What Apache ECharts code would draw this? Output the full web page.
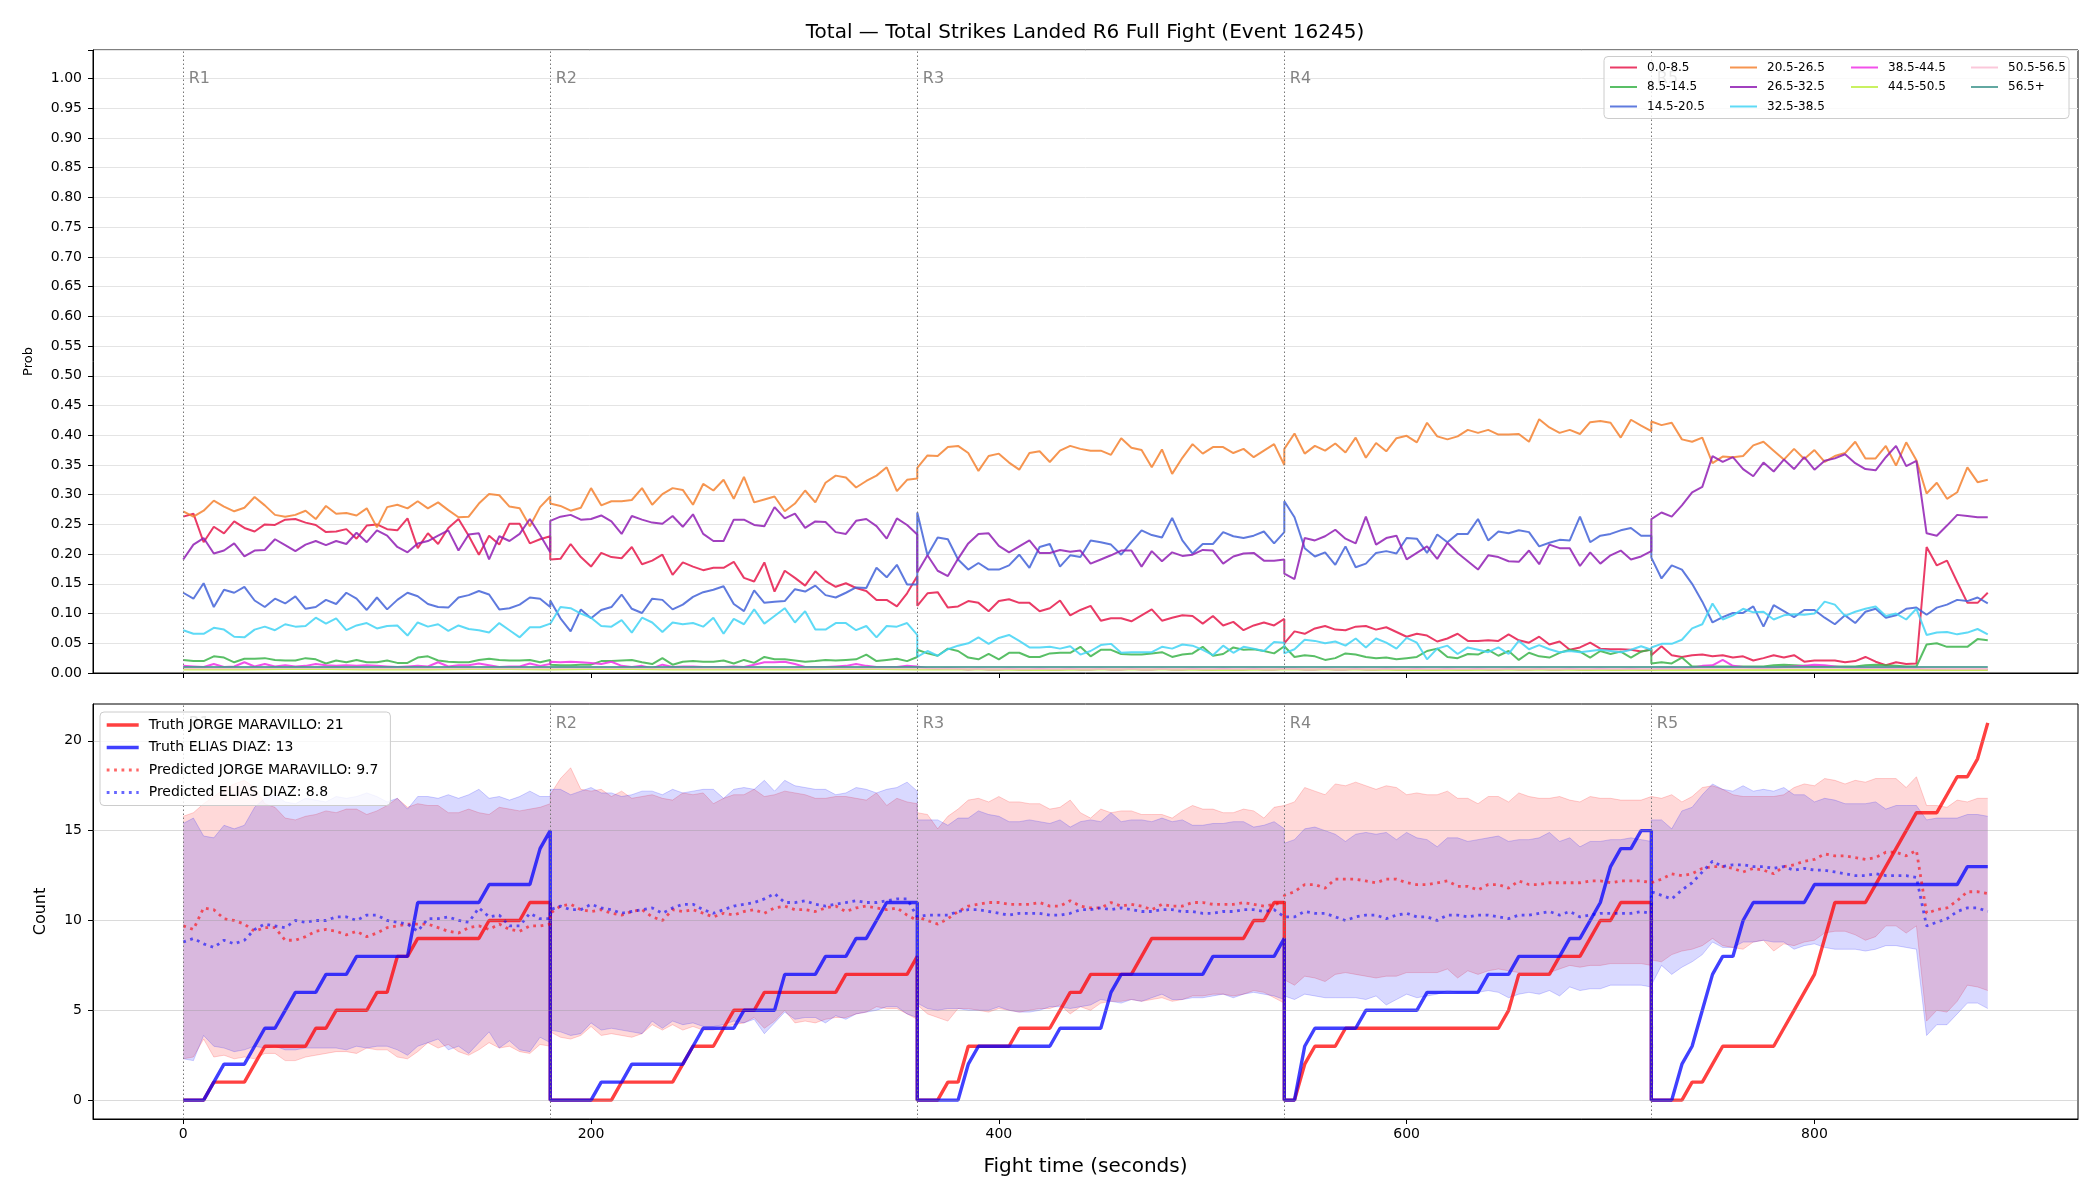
<!DOCTYPE html>
<html>
<head>
<meta charset="utf-8">
<script src="https://cdn.jsdelivr.net/npm/echarts@6/dist/echarts.min.js"></script>
<style>
  html, body { margin: 0; padding: 0; background: #fff; }
  #chart { width: 2100px; height: 1200px; }
</style>
</head>
<body>
<div id="chart"></div>
<script>
// round layout (seconds)
const roundStarts = [0, 180, 360, 540, 720];
const roundEnds = [180, 360, 540, 720, 885];
const roundLabels = ['R1', 'R2', 'R3', 'R4', 'R5'];
const xTicks = [0, 200, 400, 600, 800];
const countTicks = [0, 5, 10, 15, 20];

// top panel: probability per bucket, sampled every 5 s per round
const bucketNames = ['0.0-8.5', '8.5-14.5', '14.5-20.5', '20.5-26.5', '26.5-32.5',
  '32.5-38.5', '38.5-44.5', '44.5-50.5', '50.5-56.5', '56.5+'];
const bucketColors = ['#e6194b', '#3cb44b', '#4363d8', '#f58231', '#911eb4',
  '#42d4f4', '#f032e6', '#bfef45', '#fabed4', '#469990'];

const p00 = [
  .263,.268,.220,.246,.235,.255,.244,.238,.250,.249,.258,.259,.253,.249,.237,.238,.242,.226,.248,.250,.242,.240,.260,.210,.235,.217,.244,.259,.231,.199,.231,.216,.251,.251,.218,.225,.230,
  .191,.192,.217,.195,.179,.202,.195,.193,.212,.183,.189,.199,.165,.186,.179,.173,.177,.177,.187,.160,.154,.186,.137,.172,.160,.147,.171,.155,.145,.151,.143,.138,.123,.123,.112,.134,.163,
  .113,.134,.136,.110,.112,.121,.118,.104,.121,.124,.118,.118,.104,.109,.122,.097,.106,.113,.088,.092,.092,.087,.097,.107,.088,.093,.097,.096,.083,.096,.080,.086,.072,.080,.085,.080,.091,
  .050,.070,.066,.075,.079,.073,.072,.078,.079,.073,.077,.069,.061,.066,.063,.053,.058,.066,.054,.054,.055,.054,.065,.055,.051,.061,.048,.053,.039,.043,.051,.041,.040,.040,.039,.036,.040,
  .030,.045,.030,.027,.030,.031,.028,.030,.026,.028,.021,.025,.030,.026,.030,.019,.021,.021,.021,.018,.020,.027,.019,.013,.018,.015,.016,.212,.181,.189,.153,.118,.118,.135
];
const p08 = [
  .022,.020,.020,.028,.026,.018,.024,.024,.025,.022,.021,.021,.025,.023,.016,.021,.018,.022,.018,.018,.021,.017,.017,.026,.028,.021,.019,.018,.018,.022,.024,.022,.021,.021,.022,.018,.022,
  .014,.013,.013,.014,.014,.020,.020,.021,.022,.018,.015,.025,.014,.019,.020,.019,.019,.021,.016,.022,.017,.027,.023,.023,.021,.019,.020,.022,.021,.022,.023,.031,.020,.022,.024,.020,.027,
  .039,.033,.029,.041,.037,.026,.023,.032,.023,.034,.034,.027,.027,.033,.034,.034,.044,.028,.039,.039,.032,.031,.031,.033,.035,.027,.031,.033,.044,.029,.032,.043,.039,.040,.037,.033,.045,
  .045,.027,.030,.028,.022,.025,.033,.031,.027,.025,.026,.023,.025,.027,.037,.041,.027,.025,.032,.031,.039,.029,.037,.022,.034,.028,.026,.034,.039,.036,.026,.037,.032,.036,.026,.036,.039,
  .016,.018,.016,.026,.011,.011,.011,.011,.011,.011,.011,.011,.013,.014,.013,.012,.011,.011,.011,.011,.011,.013,.014,.013,.012,.011,.011,.048,.050,.044,.044,.044,.057,.055
];
const p14 = [
  .135,.125,.151,.111,.140,.135,.145,.122,.111,.125,.117,.129,.108,.111,.123,.116,.135,.125,.106,.127,.107,.123,.135,.129,.116,.111,.110,.127,.131,.138,.132,.107,.109,.115,.127,.125,.111,
  .122,.092,.070,.107,.092,.106,.111,.132,.108,.101,.125,.123,.107,.115,.128,.136,.140,.146,.116,.104,.139,.118,.120,.121,.141,.137,.147,.131,.127,.135,.144,.143,.177,.161,.182,.149,.149,
  .270,.198,.228,.225,.191,.174,.185,.174,.174,.181,.199,.177,.212,.217,.179,.198,.195,.223,.220,.216,.199,.220,.240,.232,.228,.261,.223,.201,.217,.217,.237,.230,.227,.231,.238,.218,.237,
  .289,.262,.210,.196,.203,.182,.213,.178,.184,.202,.205,.201,.227,.226,.202,.233,.220,.234,.234,.259,.223,.238,.235,.240,.237,.213,.219,.224,.223,.263,.220,.231,.234,.240,.244,.231,.231,
  .194,.159,.181,.174,.150,.120,.085,.094,.101,.101,.112,.078,.114,.104,.094,.106,.106,.093,.082,.097,.084,.103,.108,.093,.097,.108,.110,.098,.110,.115,.123,.121,.127,.117
];
const p20 = [
  .272,.263,.273,.290,.280,.272,.278,.296,.282,.266,.263,.266,.273,.259,.281,.268,.269,.265,.277,.245,.279,.283,.277,.289,.277,.287,.274,.262,.263,.285,.301,.299,.280,.277,.247,.279,.297,
  .285,.281,.273,.278,.311,.282,.289,.289,.291,.311,.283,.301,.311,.308,.283,.318,.307,.325,.293,.330,.287,.292,.297,.272,.285,.307,.287,.320,.332,.329,.312,.323,.332,.346,.306,.325,.327,
  .345,.366,.365,.380,.382,.370,.340,.365,.369,.354,.342,.370,.373,.355,.374,.382,.377,.374,.374,.367,.395,.379,.375,.346,.376,.335,.362,.385,.369,.380,.380,.370,.377,.363,.374,.385,.350,
  .377,.403,.369,.382,.374,.386,.371,.396,.362,.387,.373,.395,.399,.388,.421,.398,.393,.398,.409,.404,.409,.401,.401,.402,.389,.427,.413,.404,.409,.402,.422,.424,.421,.396,.426,.416,.407,
  .423,.417,.421,.393,.389,.396,.353,.364,.363,.365,.383,.389,.374,.359,.377,.360,.375,.355,.365,.370,.389,.361,.361,.382,.349,.388,.358,.302,.320,.293,.304,.346,.321,.325
];
const p26 = [
  .191,.216,.227,.201,.206,.218,.196,.206,.207,.225,.215,.205,.216,.222,.215,.222,.217,.236,.220,.240,.231,.212,.203,.218,.222,.231,.240,.206,.233,.235,.191,.230,.222,.234,.259,.232,.203,
  .256,.263,.266,.258,.259,.265,.255,.234,.264,.258,.253,.251,.264,.246,.267,.234,.222,.222,.258,.258,.249,.247,.279,.260,.268,.244,.255,.254,.237,.234,.256,.259,.247,.226,.260,.249,.233,
  .169,.198,.172,.163,.192,.218,.234,.235,.214,.203,.213,.223,.202,.202,.207,.204,.206,.184,.191,.198,.206,.206,.179,.205,.188,.203,.197,.199,.207,.206,.184,.196,.201,.202,.189,.189,.191,
  .167,.158,.227,.223,.230,.241,.226,.218,.263,.216,.227,.231,.191,.202,.213,.192,.219,.202,.188,.174,.198,.195,.188,.187,.206,.183,.216,.210,.210,.180,.203,.184,.198,.206,.191,.196,.205,
  .259,.270,.263,.282,.304,.313,.365,.355,.363,.343,.331,.354,.339,.359,.343,.363,.342,.357,.361,.368,.353,.343,.341,.363,.382,.348,.357,.235,.231,.248,.266,.264,.262,.262
];
const p32 = [
  .072,.066,.066,.076,.073,.061,.060,.073,.078,.072,.082,.078,.079,.093,.083,.092,.072,.080,.084,.075,.079,.080,.063,.085,.078,.082,.071,.080,.074,.072,.068,.084,.072,.060,.077,.077,.083,
  .083,.111,.109,.100,.093,.079,.078,.089,.068,.093,.085,.069,.085,.082,.084,.078,.093,.066,.091,.082,.107,.083,.096,.109,.085,.104,.073,.073,.084,.084,.072,.079,.060,.079,.078,.084,.064,
  .027,.037,.029,.040,.046,.050,.060,.049,.059,.064,.054,.043,.043,.044,.041,.045,.031,.037,.047,.049,.034,.035,.035,.035,.044,.041,.048,.046,.039,.030,.046,.034,.044,.041,.037,.052,.051,
  .033,.040,.056,.054,.050,.053,.046,.058,.043,.058,.051,.041,.059,.051,.023,.041,.046,.032,.043,.039,.035,.043,.032,.054,.040,.047,.040,.035,.037,.035,.037,.039,.037,.035,.039,.045,.039,
  .043,.049,.049,.056,.075,.082,.117,.090,.097,.108,.102,.103,.090,.097,.099,.098,.100,.120,.115,.096,.103,.108,.112,.096,.100,.090,.108,.064,.068,.069,.065,.068,.074,.065
];
const p38 = [
  .012,.011,.010,.015,.010,.011,.018,.011,.015,.011,.013,.011,.012,.015,.013,.012,.013,.012,.013,.012,.011,.010,.011,.012,.011,.018,.011,.013,.013,.016,.013,.010,.011,.011,.016,.012,.015,
  .019,.018,.019,.018,.017,.015,.019,.012,.010,.012,.008,.014,.010,.011,.011,.010,.010,.010,.011,.010,.014,.018,.018,.019,.015,.010,.010,.010,.011,.012,.015,.012,.010,.010,.010,.012,.011,
  .009,.008,.007,.008,.007,.006,.007,.006,.006,.007,.006,.006,.007,.006,.006,.007,.006,.006,.007,.006,.006,.007,.006,.006,.007,.006,.006,.007,.006,.006,.007,.006,.006,.007,.006,.006,.007,
  .006,.007,.006,.006,.007,.006,.006,.007,.006,.006,.007,.006,.006,.007,.006,.006,.007,.006,.006,.007,.006,.006,.007,.006,.006,.007,.006,.006,.007,.006,.006,.007,.006,.006,.007,.006,.006,
  .008,.007,.008,.007,.009,.012,.013,.022,.012,.010,.009,.008,.009,.010,.011,.012,.014,.013,.011,.009,.008,.008,.009,.008,.007,.008,.007,.006,.006,.006,.006,.006,.006,.006
];
// the three highest buckets sit flat near zero: read every 30 s
const p44 = [
  .006,.006,.007,.006,.006,.007,.006,  .006,.007,.006,.006,.006,.007,.006,  .006,.006,.005,.006,.006,.005,.006,
  .005,.006,.005,.005,.006,.005,.005,  .005,.005,.005,.005,.005,.005,.005
];
const p50 = [
  .008,.008,.009,.008,.008,.008,.008,  .008,.009,.008,.008,.008,.008,.008,  .007,.007,.007,.007,.007,.007,.007,
  .007,.007,.007,.007,.007,.007,.007,  .007,.008,.008,.009,.008,.007,.007
];
const p56 = [
  .010,.010,.010,.010,.010,.010,.010,  .010,.010,.010,.010,.010,.010,.010,  .010,.010,.010,.010,.010,.010,.010,
  .010,.010,.010,.010,.010,.010,.010,  .010,.010,.010,.010,.010,.010,.010
];
const bucketProbs = [p00, p08, p14, p20, p26, p32, p38, p44, p50, p56];

// bottom panel: cumulative counts, 5 s samples
const truthJorge = [
  0,0,0,1,1,1,1,2,3,3,3,3,3,4,4,5,5,5,5,6,6,8,8,9,9,9,9,9,9,9,10,10,10,10,11,11,11,
  0,0,0,0,0,0,0,1,1,1,1,1,1,2,3,3,3,4,5,5,5,6,6,6,6,6,6,6,6,7,7,7,7,7,7,7,8,
  0,0,0,1,1,3,3,3,3,3,4,4,4,4,5,6,6,7,7,7,7,7,8,9,9,9,9,9,9,9,9,9,9,10,10,11,11,
  0,0,2,3,3,3,4,4,4,4,4,4,4,4,4,4,4,4,4,4,4,4,5,7,7,7,7,8,8,8,9,10,10,11,11,11,11,
  0,0,0,0,1,1,2,3,3,3,3,3,3,4,5,6,7,9,11,11,11,11,12,13,14,15,16,16,16,17,18,18,19,21
];
const truthElias = [
  0,0,0,1,2,2,2,3,4,4,5,6,6,6,7,7,7,8,8,8,8,8,8,11,11,11,11,11,11,11,12,12,12,12,12,14,15,
  0,0,0,0,0,1,1,1,2,2,2,2,2,2,3,4,4,4,4,5,5,5,5,7,7,7,7,8,8,8,9,9,10,11,11,11,11,
  0,0,0,0,0,2,3,3,3,3,3,3,3,3,4,4,4,4,4,6,7,7,7,7,7,7,7,7,7,8,8,8,8,8,8,8,9,
  0,0,3,4,4,4,4,4,5,5,5,5,5,5,6,6,6,6,6,6,7,7,7,8,8,8,8,8,9,9,10,11,13,14,14,15,15,
  0,0,0,2,3,5,7,8,8,10,11,11,11,11,11,11,12,12,12,12,12,12,12,12,12,12,12,12,12,12,12,13,13,13
];
const predJorge = [
  9.7,9.5,10.7,10.6,10.1,10.0,9.8,9.4,9.6,9.6,8.9,8.9,9.1,9.4,9.5,9.4,9.2,9.4,9.1,9.3,9.6,9.7,9.8,9.8,9.8,9.6,9.4,9.3,9.6,9.7,9.5,9.8,9.5,9.4,9.7,9.7,9.8,
  10.4,10.8,10.9,10.6,10.5,10.6,10.4,10.3,10.5,10.6,10.2,10.0,10.6,10.5,10.6,10.4,10.2,10.4,10.3,10.5,10.6,10.4,10.7,10.8,10.6,10.6,10.5,10.7,10.8,10.5,10.7,10.8,10.7,10.6,10.7,10.3,10.0,
  10.2,10.0,9.8,10.1,10.5,10.8,10.9,11.0,11.0,10.9,10.9,10.9,11.0,10.8,10.8,11.1,10.8,10.7,10.7,11.0,10.8,10.9,10.8,10.6,10.9,10.8,10.8,11.0,11.0,10.9,10.9,10.9,11.0,10.9,10.8,10.9,11.0,
  11.4,11.6,12.0,12.0,11.8,12.3,12.3,12.3,12.2,12.1,12.3,12.3,12.1,12.0,12.0,12.1,12.2,11.9,11.9,11.7,12.0,12.0,11.8,12.2,12.0,12.0,12.1,12.1,12.1,12.1,12.2,12.2,12.1,12.2,12.2,12.2,12.1,
  12.1,12.3,12.6,12.5,12.6,12.9,13.0,13.0,12.9,12.7,12.9,12.8,12.6,13.0,13.1,13.3,13.4,13.7,13.6,13.6,13.5,13.4,13.5,13.8,13.8,13.6,13.9,10.4,10.6,10.7,11.1,11.6,11.6,11.5
];
const predElias = [
  8.8,9.0,8.7,8.5,8.9,8.7,8.9,9.5,9.8,9.7,9.6,10.0,9.9,10.0,10.0,10.2,10.2,10.0,10.3,10.3,10.0,9.9,9.8,9.4,10.1,10.1,10.2,10.0,9.9,10.7,10.2,10.3,9.7,9.7,10.4,10.1,10.1,
  10.6,10.8,10.6,10.6,10.9,10.7,10.6,10.4,10.5,10.6,10.7,10.4,10.7,10.9,10.9,10.6,10.4,10.6,10.8,10.9,11.0,11.2,11.5,11.0,11.0,11.1,10.9,10.8,10.9,11.0,11.1,11.0,11.0,11.1,11.2,11.2,10.2,
  10.3,10.3,10.3,10.3,10.5,10.6,10.6,10.5,10.4,10.3,10.4,10.4,10.4,10.3,10.3,10.4,10.6,10.6,10.7,10.6,10.7,10.6,10.5,10.5,10.6,10.6,10.5,10.5,10.4,10.4,10.5,10.5,10.6,10.6,10.5,10.6,10.2,
  10.1,10.2,10.5,10.4,10.4,10.2,10.0,10.2,10.3,10.3,10.1,10.3,10.4,10.2,10.2,10.0,10.3,10.3,10.2,10.3,10.3,10.2,10.1,10.3,10.3,10.4,10.5,10.3,10.5,10.2,10.3,10.4,10.4,10.4,10.4,10.5,10.4,
  11.6,11.4,11.2,11.7,12.1,12.7,13.3,13.0,13.1,13.1,13.0,13.0,12.9,13.0,12.8,12.9,12.8,12.8,12.7,12.6,12.5,12.5,12.6,12.5,12.5,12.5,12.4,9.7,9.9,10.1,10.5,10.7,10.7,10.5
];
const jorgeLow = [
  2.3,2.4,3.4,2.4,2.5,2.3,2.4,2.3,2.6,2.6,2.2,2.2,2.4,2.5,2.6,2.7,2.7,2.6,2.9,2.8,2.8,2.4,2.3,2.7,3.2,2.9,3.1,2.7,2.5,2.8,3.2,2.9,3.0,2.7,2.6,3.1,3.0,
  3.8,3.5,3.4,3.6,4.1,3.6,3.7,3.6,3.5,3.7,4.2,3.9,4.2,3.9,4.1,3.9,3.9,4.1,4.2,4.3,4.6,4.0,4.4,5.0,4.3,4.4,4.3,4.5,4.6,4.6,4.8,4.9,5.2,5.1,5.1,4.8,4.5,
  5.3,4.8,4.6,4.4,5.1,5.1,5.0,4.9,5.1,5.0,4.9,5.0,5.1,5.1,5.3,4.8,5.2,5.0,5.4,5.5,5.5,5.6,5.5,5.6,5.7,5.5,5.6,5.8,5.8,5.9,5.9,5.8,5.9,6.1,6.0,5.7,5.4,
  6.7,6.4,6.9,6.8,6.6,7.0,7.1,7.0,6.9,6.8,6.9,6.9,7.1,7.1,7.1,7.1,7.3,6.8,7.2,7.0,7.2,7.3,7.2,7.1,7.1,7.1,7.1,7.3,7.5,7.4,7.5,7.5,7.6,7.6,7.6,7.6,7.5,
  7.8,7.7,8.1,8.3,8.4,8.6,9.0,8.6,8.5,8.4,8.8,8.9,8.3,8.7,8.6,8.8,8.9,9.3,9.4,9.4,9.2,8.9,9.1,9.7,9.7,9.3,9.7,4.4,5.0,4.9,5.5,6.4,6.3,6.1
];
const jorgeHigh = [
  15.8,16.0,16.5,16.9,17.3,17.6,17.8,17.4,16.5,16.3,15.7,15.6,15.8,15.9,16.1,16.0,16.2,16.2,15.9,16.1,16.4,16.8,16.3,16.5,16.4,16.4,16.0,16.0,16.2,16.0,15.9,16.3,16.2,16.1,16.2,16.3,16.5,
  17.0,17.9,18.5,17.3,17.2,17.3,16.9,17.2,16.8,16.9,17.0,16.8,16.7,17.1,17.0,17.1,16.5,16.8,17.0,17.0,17.3,16.9,17.0,17.2,17.1,17.0,16.8,16.8,16.9,16.9,16.8,16.7,17.1,16.4,16.8,16.6,16.5,
  16.0,15.9,15.1,15.8,16.2,16.7,16.8,16.6,16.9,16.6,16.6,16.5,16.5,16.2,16.3,16.7,16.0,15.7,16.2,16.0,16.1,16.1,15.9,15.9,15.9,15.7,16.1,16.4,16.2,16.2,16.0,16.0,16.2,16.1,15.7,16.3,16.4,
  16.4,16.6,17.4,17.2,17.0,17.6,17.5,17.7,17.5,17.3,17.5,17.4,17.0,17.1,17.0,17.0,17.2,16.8,16.8,16.5,16.9,16.9,16.6,17.1,16.9,16.8,16.8,16.9,16.7,16.6,16.9,16.8,16.8,16.7,16.7,16.7,16.9,
  16.9,16.8,17.0,16.6,16.9,17.4,17.5,17.3,17.0,16.9,16.9,16.9,16.9,17.0,17.4,17.6,17.5,17.9,17.8,17.6,17.8,17.7,17.9,17.9,17.9,17.4,18.0,16.4,16.4,16.3,16.7,16.6,16.8,16.8
];
const eliasLow = [
  2.3,2.2,3.6,3.0,2.9,2.7,2.8,3.0,2.9,3.0,2.8,2.8,2.9,2.9,2.9,2.9,2.8,3.0,2.9,3.0,3.0,2.8,2.5,3.0,3.2,3.4,2.8,3.0,2.6,3.2,3.8,2.9,3.3,2.8,2.7,3.5,3.2,
  3.9,3.8,3.6,3.7,4.3,3.9,4.0,3.9,3.8,3.7,4.4,4.0,4.4,4.2,4.3,4.1,4.1,4.2,4.4,4.3,4.5,3.7,4.3,4.9,4.5,4.6,4.6,4.3,4.7,4.5,4.8,4.9,5.0,5.2,5.2,4.8,4.6,
  5.4,5.1,5.0,5.1,5.1,5.0,5.0,5.0,5.2,5.0,4.9,4.9,5.0,5.2,5.2,5.1,5.2,5.3,5.6,5.5,5.4,5.6,5.5,5.7,5.9,5.6,5.6,5.7,5.7,5.8,5.9,5.7,5.9,6.0,5.9,5.8,5.6,
  5.8,5.6,5.9,5.8,5.7,5.7,5.7,5.7,5.6,5.8,5.3,5.6,5.9,5.7,5.8,5.9,6.1,6.0,6.0,6.0,6.1,6.0,5.7,5.9,6.0,5.9,6.1,5.8,6.3,6.1,6.2,6.2,6.4,6.4,6.4,6.4,6.3,
  6.4,7.5,7.0,7.4,7.7,8.1,8.8,8.5,8.5,8.8,8.8,8.9,8.8,8.8,8.4,8.6,8.7,8.5,8.4,8.4,8.4,8.3,8.4,8.6,8.6,8.5,8.4,3.6,4.2,4.2,4.8,5.4,5.4,5.1
];
const eliasHigh = [
  15.4,15.7,14.7,14.6,15.3,15.1,15.3,16.3,16.8,17.0,16.6,16.5,16.8,16.7,16.6,16.9,16.8,16.9,17.1,16.9,16.6,16.8,16.2,16.9,16.9,16.8,17.0,16.8,17.0,17.3,16.8,16.9,16.7,16.9,17.2,16.9,16.9,
  17.3,17.3,17.0,17.2,17.4,17.1,17.1,16.9,17.0,17.2,17.2,17.0,17.3,17.1,17.2,17.3,17.3,16.8,17.3,17.4,17.3,17.8,17.2,17.8,17.5,17.4,17.3,17.3,17.0,17.1,17.4,17.3,17.1,17.3,17.4,17.7,17.2,
  15.6,15.6,15.6,15.3,15.7,15.7,16.1,15.9,15.8,15.5,15.5,15.6,15.5,15.4,15.6,15.2,15.5,15.6,15.5,16.0,15.5,15.6,15.6,15.5,15.7,15.5,15.6,15.3,15.3,15.4,15.4,15.5,15.5,15.2,15.3,15.5,15.1,
  14.3,14.5,15.1,15.2,15.0,14.8,14.4,14.8,14.9,14.8,14.9,14.5,14.9,14.6,14.5,14.1,14.6,14.6,14.4,14.5,14.6,14.7,14.4,14.5,14.5,14.6,14.9,14.4,14.6,14.1,14.4,14.4,14.5,14.5,14.6,14.5,14.4,
  15.6,15.6,15.1,16.1,16.3,17.0,17.6,17.3,17.2,17.5,17.2,17.3,17.2,17.4,17.0,17.0,16.6,16.8,16.7,16.5,16.5,16.5,16.6,16.2,16.4,16.4,16.4,15.6,15.7,15.7,15.7,15.9,15.9,15.8
];

const FONT = '"DejaVu Sans", sans-serif';

function buildTimes(step) {
  const t = [];
  roundStarts.forEach((s, i) => {
    const e = roundEnds[i];
    for (let x = s; x <= e; x += step) t.push(x);
    if (t[t.length - 1] !== e) t.push(e);
  });
  return t;
}
const times = buildTimes(5);
const coarseTimes = buildTimes(30);
const pairs = (vals) => (vals.length === times.length ? times : coarseTimes).map((t, i) => [t, vals[i]]);

const chart = echarts.init(document.getElementById('chart'), null, { renderer: 'canvas' });

const xBase = {
  type: 'value', min: -44.25, max: 929.25,
  axisLine: { show: true, onZero: false, lineStyle: { color: '#000', width: 1 } },
  axisTick: { show: true, customValues: xTicks, length: 5, lineStyle: { color: '#000', width: 1 } },
  splitLine: { show: false }
};

const series = [];

// top panel lines
bucketNames.forEach((name, i) => {
  series.push({
    type: 'line', name: name, xAxisIndex: 0, yAxisIndex: 0,
    data: pairs(bucketProbs[i]),
    symbol: 'none', z: 3,
    lineStyle: { color: bucketColors[i], width: 2, opacity: 0.85 },
    itemStyle: { color: bucketColors[i] },
    emphasis: { disabled: true },
    markLine: i === 0 ? {
      silent: true, symbol: 'none', label: { show: false },
      lineStyle: { color: '#777', width: 1, type: [1.5, 2.5] },
      emphasis: { disabled: true },
      data: roundStarts.map(x => ({ xAxis: x }))
    } : undefined
  });
});

// round labels
series.push({
  type: 'scatter', xAxisIndex: 0, yAxisIndex: 0, symbolSize: 1, silent: true, z: 3,
  itemStyle: { color: 'transparent' },
  data: roundStarts.map(x => [x, 1.0]),
  label: { show: true, position: 'right', distance: 5, color: '#666', fontSize: 16, fontFamily: FONT,
    formatter: p => roundLabels[p.dataIndex] }
});
series.push({
  type: 'scatter', xAxisIndex: 1, yAxisIndex: 1, symbolSize: 1, silent: true, z: 3,
  itemStyle: { color: 'transparent' },
  data: roundStarts.map(x => [x, 20.93]),
  label: { show: true, position: 'right', distance: 5, color: '#666', fontSize: 16, fontFamily: FONT,
    formatter: p => roundLabels[p.dataIndex] }
});

// bottom panel bands
function band(lo, hi, rgb) {
  return {
    type: 'custom', xAxisIndex: 1, yAxisIndex: 1, silent: true, z: 1, clip: true,
    data: times.map((t, i) => [t, lo[i], hi[i]]),
    encode: { x: 0, y: [1, 2] },
    renderItem: function (params, api) {
      if (params.dataIndex !== 0) return null;
      const up = times.map((t, i) => api.coord([t, hi[i]]));
      const dn = times.map((t, i) => api.coord([t, lo[i]]));
      return {
        type: 'group',
        children: [
          { type: 'polygon', shape: { points: up.concat(dn.slice().reverse()) },
            style: { fill: 'rgba(' + rgb + ',0.15)', stroke: 'none' } },
          { type: 'polyline', shape: { points: up },
            style: { fill: 'none', stroke: 'rgba(' + rgb + ',0.18)', lineWidth: 1 } },
          { type: 'polyline', shape: { points: dn },
            style: { fill: 'none', stroke: 'rgba(' + rgb + ',0.18)', lineWidth: 1 } }
        ]
      };
    }
  };
}
series.push(band(jorgeLow, jorgeHigh, '255,0,0'));
series.push(band(eliasLow, eliasHigh, '0,0,255'));

// bottom gridlines + round markers
series.push({
  type: 'line', xAxisIndex: 1, yAxisIndex: 1, data: [[0, 0]], symbol: 'none', silent: true, z: 2,
  lineStyle: { width: 0, opacity: 0 },
  markLine: {
    silent: true, symbol: 'none', label: { show: false }, emphasis: { disabled: true },
    data: countTicks.map(v => ({ yAxis: v, lineStyle: { color: 'rgba(150,150,150,0.35)', width: 1, type: 'solid' } }))
      .concat(roundStarts.map(x => ({ xAxis: x, lineStyle: { color: '#777', width: 1, type: [1.5, 2.5] } })))
  }
});

const lineDefs = [
  { name: 'Truth JORGE MARAVILLO: 21', data: truthJorge, color: '#ff0000', width: 3.4, opacity: 0.75, type: 'solid' },
  { name: 'Truth ELIAS DIAZ: 13', data: truthElias, color: '#0000ff', width: 3.4, opacity: 0.75, type: 'solid' },
  { name: 'Predicted JORGE MARAVILLO: 9.7', data: predJorge, color: '#ff0000', width: 2.8, opacity: 0.6, type: [2.8, 4.6] },
  { name: 'Predicted ELIAS DIAZ: 8.8', data: predElias, color: '#0000ff', width: 2.8, opacity: 0.6, type: [2.8, 4.6] }
];
lineDefs.forEach(d => {
  series.push({
    type: 'line', name: d.name, xAxisIndex: 1, yAxisIndex: 1, data: pairs(d.data),
    symbol: 'none', z: 3, emphasis: { disabled: true },
    lineStyle: { color: d.color, width: d.width, opacity: d.opacity, type: d.type },
    itemStyle: { color: d.color }
  });
});

// legends (line handles only, no marker)
const topCols = [[0, 1, 2], [3, 4, 5], [6, 7], [8, 9]];
const topColX = [1609, 1729, 1850, 1970];
const legends = topCols.map((col, k) => ({
  orient: 'vertical', left: topColX[k], top: 61.5, padding: 0,
  itemWidth: 27, itemHeight: 12, itemGap: 7.5, selectedMode: false, z: 60,
  itemStyle: { opacity: 0 },
  textStyle: { fontSize: 12, fontFamily: FONT, color: '#000', padding: [0, 0, 0, 5] },
  data: col.map(i => ({
    name: bucketNames[i],
    lineStyle: { color: bucketColors[i], width: 2, opacity: 0.85 }
  }))
}));
legends.push({
  orient: 'vertical', left: 100, top: 712, padding: [6, 12, 6, 5],
  itemWidth: 32, itemHeight: 14, itemGap: 8.5, selectedMode: false, z: 60,
  itemStyle: { opacity: 0 },
  backgroundColor: 'rgba(255,255,255,0.8)', borderColor: '#cccccc', borderWidth: 1, borderRadius: 4,
  textStyle: { fontSize: 14, fontFamily: FONT, color: '#000', padding: [0, 0, 0, 5] },
  data: lineDefs.map(d => ({
    name: d.name,
    lineStyle: { color: d.color, width: d.width, opacity: d.opacity, type: d.type }
  }))
});

const option = {
  animation: false,
  backgroundColor: '#fff',
  textStyle: { fontFamily: FONT },
  graphic: [
    { type: 'text', x: 1085, y: 33, z: 10,
      style: { text: 'Total \u2014 Total Strikes Landed R6 Full Fight (Event 16245)', align: 'center', verticalAlign: 'middle',
        fontSize: 20, fontFamily: FONT, fill: '#000' } },
    { type: 'rect', z: 50, shape: { x: 1604, y: 56.5, width: 465, height: 62, r: 4 },
      style: { fill: 'rgba(255,255,255,0.8)', stroke: '#cccccc', lineWidth: 1 } }
  ],
  legend: legends,
  grid: [
    { left: 93, right: 22, top: 50, height: 623, show: true, borderColor: '#000', borderWidth: 1, backgroundColor: 'transparent' },
    { left: 93, right: 22, top: 704, height: 415, show: true, borderColor: '#000', borderWidth: 1, backgroundColor: 'transparent' }
  ],
  xAxis: [
    Object.assign({ gridIndex: 0, axisLabel: { show: false } }, xBase),
    Object.assign({ gridIndex: 1,
      axisLabel: { show: true, customValues: xTicks, fontSize: 14, color: '#000', margin: 8, fontFamily: FONT },
      name: 'Fight time (seconds)', nameLocation: 'middle', nameGap: 38,
      nameTextStyle: { fontSize: 20, color: '#000', fontFamily: FONT } }, xBase)
  ],
  yAxis: [
    { gridIndex: 0, type: 'value', min: 0, max: 1.048, interval: 0.05,
      axisLine: { show: true, onZero: false, lineStyle: { color: '#000', width: 1 } },
      axisTick: { show: true, length: 5, lineStyle: { color: '#000', width: 1 } },
      axisLabel: { fontSize: 14, color: '#000', margin: 11, fontFamily: FONT,
        formatter: v => (v > 1.001 ? '' : v.toFixed(2)) },
      splitLine: { show: true, lineStyle: { color: '#e4e4e4', width: 1 } },
      name: 'Prob', nameLocation: 'middle', nameRotate: 90, nameGap: 58,
      nameTextStyle: { fontSize: 13, color: '#000', fontFamily: FONT } },
    { gridIndex: 1, type: 'value', min: -1.05, max: 22.05,
      axisLine: { show: true, onZero: false, lineStyle: { color: '#000', width: 1 } },
      axisTick: { show: true, customValues: countTicks, length: 5, lineStyle: { color: '#000', width: 1 } },
      axisLabel: { customValues: countTicks, fontSize: 14, color: '#000', margin: 11, fontFamily: FONT },
      splitLine: { show: false },
      name: 'Count', nameLocation: 'middle', nameRotate: 90, nameGap: 44,
      nameTextStyle: { fontSize: 16, color: '#000', fontFamily: FONT } }
  ],
  series: series
};

chart.setOption(option);
</script>
</body>
</html>
